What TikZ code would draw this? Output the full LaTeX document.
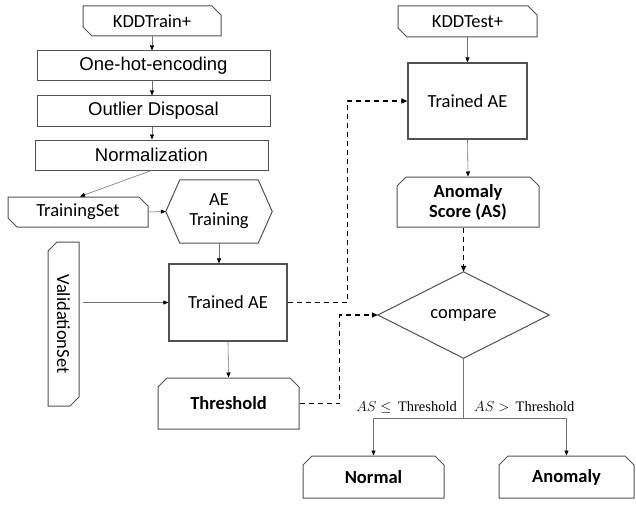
\documentclass[tikz,border=0pt]{standalone}
\usepackage{fontspec}
\setmainfont{Carlito}
\newfontfamily\arialf{Liberation Sans}
\newfontfamily\serifx{Liberation Serif}
\usetikzlibrary{shapes.misc,arrows.meta}
\begin{document}
\begin{tikzpicture}[x=1pt,y=-1pt,
  box/.style={draw=black!68, line width=1pt, font=\fontsize{18.5}{21}\selectfont, inner sep=0pt, align=center},
  rbox/.style={box, rectangle},
  cbox/.style={box, chamfered rectangle, chamfered rectangle xsep=4.5pt, chamfered rectangle ysep=4.5pt},
  ghost/.style={draw=none, rectangle, inner sep=0pt, align=center, font=\fontsize{18.5}{21}\selectfont},
  outline/.style={draw=black!68, line width=1pt},
  conn/.style={draw=black!55, line width=0.6pt, -{Triangle[length=5pt,width=4pt,color=black]}},
  plain/.style={draw=black!55, line width=0.6pt},
  dconn/.style={draw=black, line width=1.2pt, dash pattern=on 5pt off 4pt, -{Triangle[length=6pt,width=5pt]}},
  lbl/.style={inner sep=0pt, font=\fontsize{14.5}{16}\selectfont}
]
\useasboundingbox (0,0) rectangle (636,508);

% left column
\node[cbox, chamfered rectangle corners={north east, south west}, minimum width=138pt, minimum height=30pt] (train) at (152,21) {KDDTrain+};
\node[rbox, font=\arialf\fontsize{18.5}{21}\selectfont, minimum width=233pt, minimum height=30pt] (onehot) at (153.5,66) {One-hot-encoding};
\node[rbox, font=\arialf\fontsize{18.5}{21}\selectfont, minimum width=233pt, minimum height=30pt] (outlier) at (153.5,111) {Outlier Disposal};
\node[rbox, font=\arialf\fontsize{18.5}{21}\selectfont, minimum width=233pt, minimum height=30pt] (norm) at (151.5,155) {Normalization};
\node[cbox, chamfered rectangle corners={north east, south west}, minimum width=140pt, minimum height=30pt] (tset) at (78,212) {TrainingSet};
\node[ghost, minimum width=106pt, minimum height=63pt] (aet) at (219,211.5) {AE\\[-1pt]Training};
\draw[outline] ([xshift=14pt]aet.north west) -- ([xshift=-14pt]aet.north east) -- (aet.east)
  -- ([xshift=-14pt]aet.south east) -- ([xshift=14pt]aet.south west) -- (aet.west) -- cycle;
\node[cbox, rotate=-90, chamfered rectangle corners={north east, south west}, minimum width=164pt, minimum height=31pt] (vset) at (63.5,324) {ValidationSet};
\node[rbox, line width=1.3pt, minimum width=118pt, minimum height=77pt] (tae) at (228,302.5) {Trained AE};
\node[cbox, chamfered rectangle corners={north west, north east}, minimum width=141pt, minimum height=51pt, font=\bfseries\fontsize{18.5}{21}\selectfont] (thr) at (228.5,403.5) {Threshold};

% right column
\node[cbox, chamfered rectangle corners={north east, south west}, minimum width=139pt, minimum height=31pt] (test) at (467.5,21.5) {KDDTest+};
\node[rbox, line width=1.3pt, minimum width=119pt, minimum height=76pt] (rae) at (467.5,101) {Trained AE};
\node[cbox, chamfered rectangle corners={north west, north east}, minimum width=142pt, minimum height=50pt, font=\bfseries\fontsize{18.5}{21}\selectfont] (as) at (468,202) {Anomaly\\[-1pt]Score (AS)};
\node[ghost, minimum width=171pt, minimum height=86pt] (cmp) at (463.5,315) {compare};
\draw[outline] (cmp.west) -- (cmp.north) -- (cmp.east) -- (cmp.south) -- cycle;
\node[cbox, chamfered rectangle corners={north west, north east}, minimum width=141pt, minimum height=42pt, font=\bfseries\fontsize{18.5}{21}\selectfont] (normal) at (373.5,477) {Normal};
\node[cbox, chamfered rectangle corners={north west, north east}, minimum width=135pt, minimum height=42pt, font=\bfseries\fontsize{18.5}{21}\selectfont] (anom) at (566.5,477) {Anomaly};

% solid connectors
\draw[conn] (train.south) -- (train.south |- onehot.north);
\draw[conn] (train.south |- onehot.south) -- (train.south |- outlier.north);
\draw[conn] (train.south |- outlier.south) -- (train.south |- norm.north);
\draw[conn] (norm.south) -- ([xshift=2pt]tset.north);
\draw[conn] (tset.east) -- (aet.west);
\draw[conn] (aet.south) -- (aet.south |- tae.north);
\draw[conn] ([xshift=3pt]vset.north |- tae.west) -- (tae.west);
\draw[conn] (tae.south) -- (thr.north);
\draw[conn] (test.south) -- (rae.north);
\draw[conn] (rae.south) -- (as.north);

% dashed connectors
\draw[dconn] (tae.east) -- ++(59.5,0) |- (rae.west);
\draw[dconn] (thr.east) -- ++(40,0) |- (cmp.west);
\draw[dconn] (cmp.north |- as.south) -- (cmp.north);

% decision branches
\draw[plain] (cmp.south) -- ++(0,60) coordinate (br);
\draw[conn] (br) -| (normal.north);
\draw[conn] (br) -| (anom.north);
\node[lbl, anchor=base east] (l1) at (457,411) {$AS \leq{}$\,{\serifx Threshold}};
\node[lbl, anchor=base west] (l2) at (474,411) {$AS >{}$\,{\serifx Threshold}};
\end{tikzpicture}
\end{document}
